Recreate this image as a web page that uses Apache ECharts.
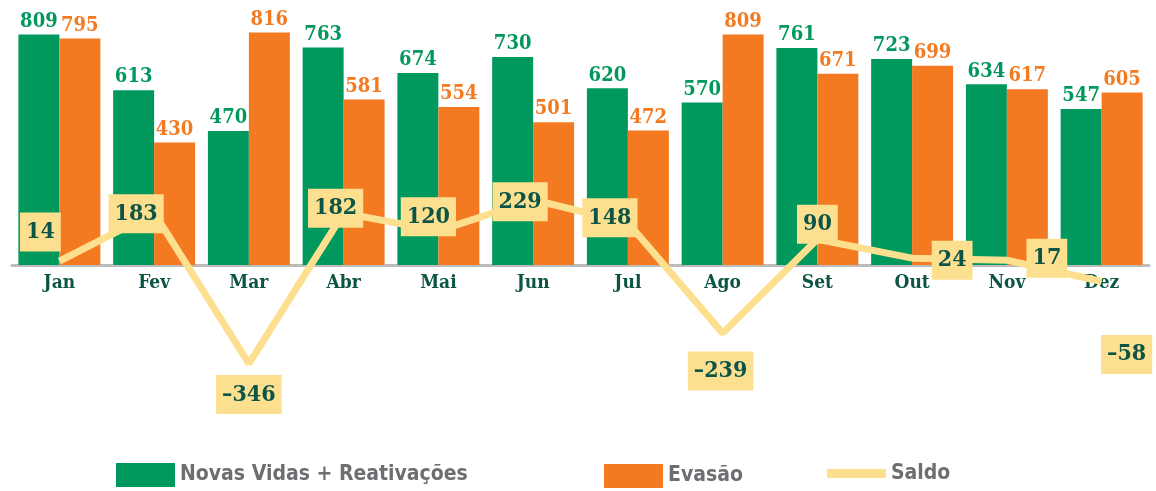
<!DOCTYPE html>
<html>
<head>
<meta charset="utf-8">
<script src="https://cdn.jsdelivr.net/npm/echarts@6/dist/echarts.min.js"></script>
<style>
  html, body { margin: 0; padding: 0; background: #fff; }
  #main { width: 1156px; height: 491px; }
</style>
</head>
<body>
<div id="main"></div>
<script>
var months = ['Jan', 'Fev', 'Mar', 'Abr', 'Mai', 'Jun', 'Jul', 'Ago', 'Set', 'Out', 'Nov', 'Dez'];
var novasVidas = [809, 613, 470, 763, 674, 730, 620, 570, 761, 723, 634, 547];
var evasao = [795, 430, 816, 581, 554, 501, 472, 809, 671, 699, 617, 605];
var saldo = [14, 183, -346, 182, 120, 229, 148, -239, 90, 24, 17, -58];

// where each saldo box sits relative to its point (px)
var saldoLabelShift = [[-19, -29], [-18, 1], [0, 31], [-8, -5], [-10, -14], [-13, 2],
    [-18, -5], [-2, 38], [0, -15], [40, 2], [40, -2], [25, 73]];

var GREEN = '#00985c';
var ORANGE = '#f47a21';
var YELLOW = '#fde08f';
var DARK = '#0b5446';
var slab = '"DejaVu Serif Condensed", "DejaVu Serif", serif';
var narrow = '"Liberation Sans Narrow", "DejaVu Sans Condensed", sans-serif';

var myChart = echarts.init(document.getElementById('main'));

var saldoData = saldo.map(function(v, i) {
    return { value: v, label: { offset: saldoLabelShift[i] } };
});

function legendText() {
    return { color: '#6d6e71', fontFamily: narrow, fontWeight: 'bold', fontSize: 21 };
}

var option = {
    animation: false,
    grid: { left: 12, right: 7, top: 8.5, bottom: 26.5 },
    legend: [{
        data: ['Novas Vidas + Reativações'],
        left: 116, top: 463, padding: 0,
        icon: 'rect', itemWidth: 59, itemHeight: 24,
        textStyle: legendText()
    }, {
        data: ['Evasão'],
        left: 604, top: 464, padding: 0,
        icon: 'rect', itemWidth: 59, itemHeight: 24,
        textStyle: legendText()
    }, {
        data: ['Saldo'],
        left: 827, top: 463, padding: 0,
        icon: 'rect', itemWidth: 59, itemHeight: 9,
        itemStyle: { color: YELLOW },
        textStyle: legendText()
    }],
    xAxis: {
        type: 'category',
        data: months,
        offset: -199.5,
        axisTick: { show: false },
        axisLine: { onZero: false, lineStyle: { color: '#bcbcbc', width: 3 } },
        axisLabel: {
            color: DARK, fontFamily: slab, fontWeight: 'bold', fontSize: 19, margin: 9
        }
    },
    yAxis: {
        type: 'value',
        min: -700,
        max: 900,
        show: false,
        splitLine: { show: false }
    },
    series: [{
        name: 'Novas Vidas + Reativações',
        type: 'bar',
        data: novasVidas,
        barGap: 0,
        barCategoryGap: '13.5%',
        itemStyle: { color: GREEN },
        label: {
            show: true, position: 'top', distance: 3,
            color: GREEN, fontFamily: slab, fontWeight: 'bold', fontSize: 20
        }
    }, {
        name: 'Evasão',
        type: 'bar',
        data: evasao,
        itemStyle: { color: ORANGE },
        label: {
            show: true, position: 'top', distance: 3,
            color: ORANGE, fontFamily: slab, fontWeight: 'bold', fontSize: 20
        }
    }, {
        name: 'Saldo',
        type: 'line',
        data: saldoData,
        z: 5,
        symbol: 'circle',
        symbolSize: 1,
        showSymbol: true,
        lineStyle: { color: YELLOW, width: 7 },
        itemStyle: { color: YELLOW },
        label: {
            show: true,
            position: 'inside',
            color: DARK,
            fontFamily: slab,
            fontWeight: 'bold',
            fontSize: 23,
            backgroundColor: YELLOW,
            padding: [9, 6, 7, 6],
            formatter: function(p) {
                return String(p.value).replace('-', '\u2013');
            }
        }
    }]
};

myChart.setOption(option);
</script>
</body>
</html>
